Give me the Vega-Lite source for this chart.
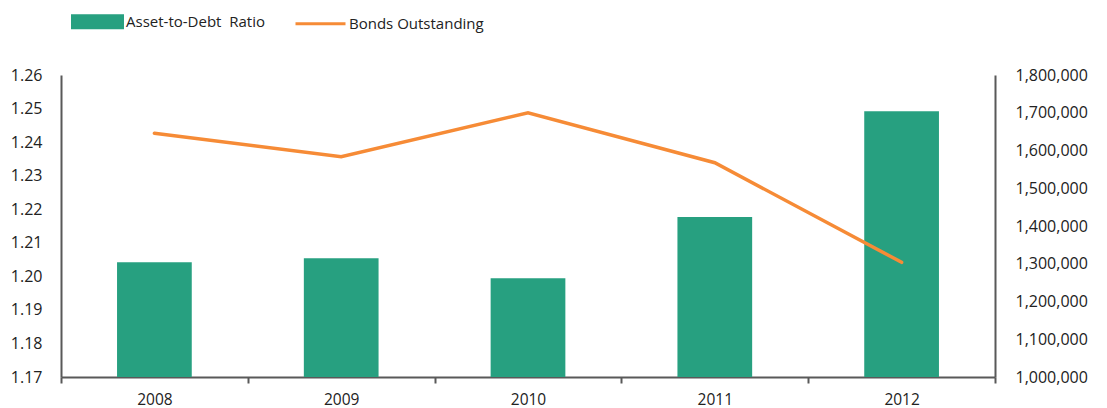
{
  "$schema": "https://vega.github.io/schema/vega-lite/v6.json",
  "autosize": "none",
  "padding": {"left": 61, "top": 75, "right": 112, "bottom": 31},
  "width": 934,
  "height": 302,
  "background": "white",
  "config": {
    "view": {"stroke": null},
    "font": "Open Sans",
    "axis": {"grid": false, "labelFont": "Open Sans", "labelFontSize": 16, "labelColor": "#222222", "domainColor": "#595959", "domainWidth": 2, "tickColor": "#595959", "tickWidth": 2}
  },
  "data": {
    "values": [
      {"year": "2008", "ratio": 1.2042, "bonds": 1645500},
      {"year": "2009", "ratio": 1.2054, "bonds": 1583600},
      {"year": "2010", "ratio": 1.1994, "bonds": 1700000},
      {"year": "2011", "ratio": 1.2177, "bonds": 1567700},
      {"year": "2012", "ratio": 1.2492, "bonds": 1303800}
    ]
  },
  "encoding": {
    "x": {
      "field": "year", "type": "nominal", "title": null,
      "scale": {"paddingInner": 0, "paddingOuter": 0},
      "axis": {"labelAngle": 0, "tickBand": "extent", "tickSize": 6, "labelPadding": 9, "labelFontSize": 15.5, "domain": true}
    }
  },
  "layer": [
    {
      "mark": {"type": "bar", "width": {"band": 0.4}, "clip": true},
      "encoding": {
        "y": {
          "field": "ratio", "type": "quantitative", "title": null,
          "scale": {"domain": [1.17, 1.26], "zero": false, "nice": false},
          "axis": {"values": [1.17, 1.18, 1.19, 1.2, 1.21, 1.22, 1.23, 1.24, 1.25, 1.26], "format": ".2f", "ticks": false, "labelPadding": 19, "orient": "left"}
        },
        "y2": {"datum": 1.17},
        "color": {
          "datum": "Asset-to-Debt\u00a0\u00a0Ratio",
          "type": "nominal",
          "scale": {"domain": ["Asset-to-Debt\u00a0\u00a0Ratio", "Bonds Outstanding"], "range": ["#27A080", "#F68B36"]},
          "legend": {
            "title": null,
            "orient": "none",
            "legendX": 10,
            "legendY": -80,
            "direction": "horizontal",
            "symbolSize": 2500,
            "labelOffset": 2,
            "columnPadding": 24,
            "labelFont": "Open Sans",
            "labelFontSize": 15,
            "labelColor": "#222222",
            "encode": {
              "symbols": {
                "update": {
                  "shape": {"signal": "datum.value === 'Bonds Outstanding' ? 'M-1,0H1' : 'M-1,-0.24H1V0.24H-1Z'"},
                  "fill": {"signal": "datum.value === 'Bonds Outstanding' ? 'transparent' : '#27A080'"},
                  "stroke": {"signal": "datum.value === 'Bonds Outstanding' ? '#F68B36' : 'transparent'"},
                  "strokeWidth": {"value": 3}
                }
              }
            }
          }
        }
      }
    },
    {
      "mark": {"type": "line", "strokeWidth": 3.5, "strokeCap": "round"},
      "encoding": {
        "y": {
          "field": "bonds", "type": "quantitative", "title": null,
          "scale": {"domain": [1000000, 1800000], "zero": false, "nice": false},
          "axis": {"orient": "right", "values": [1000000, 1100000, 1200000, 1300000, 1400000, 1500000, 1600000, 1700000, 1800000], "format": ",.0f", "ticks": false, "labelPadding": 20}
        },
        "color": {"datum": "Bonds Outstanding", "type": "nominal"}
      }
    }
  ],
  "resolve": {"scale": {"y": "independent"}}
}
